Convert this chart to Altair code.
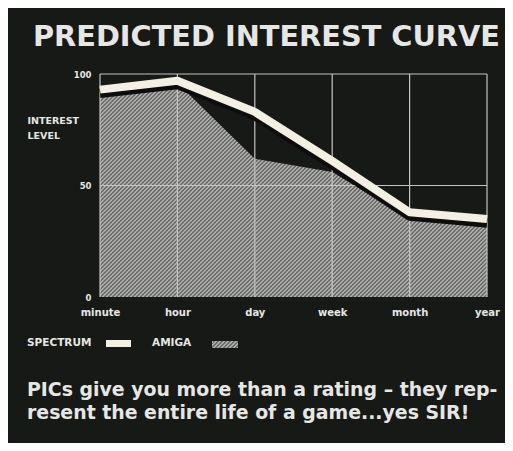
import math
import altair as alt
import pandas as pd

# ---- data ----
periods = ["minute", "hour", "day", "week", "month", "year"]
spectrum = [93, 97, 83, 61, 38, 35]
amiga = [91, 96, 62, 56, 35, 31]
grid_levels = [50, 100]
y_ticks = [0, 50, 100]

title_text = "PREDICTED INTEREST CURVE"
y_title = ["INTEREST", "LEVEL"]
legend_labels = ["SPECTRUM", "AMIGA"]
caption = ["PICs give you more than a rating \u2013 they rep-",
           "resent the entire life of a game...yes SIR!"]

BG = "#171917"
CREAM = "#f3f0e3"
TXT = "#e6e6e4"
FONT = "DejaVu Sans"

df = pd.DataFrame({"period": periods, "spectrum": spectrum, "amiga": amiga})
grid_df = pd.DataFrame({"level": grid_levels})

PW, PH = 387, 223
AREA_H = PH * (1 - max(amiga) / 100)  # top of the area's bounding box
AREA_H = PH - AREA_H


def hatch(w, h, period, light, dark):
    """diagonal (/) stripes as a hard-stop linear gradient in bbox units"""
    k = (w + h) * w / (w * w + h * h)
    total = (w + h) / math.sqrt(2)
    n = total / period
    stops = []
    i = 0
    while i / n < 1:
        a, b, c = i / n, (i + 0.5) / n, (i + 1) / n
        for off, col in [(a, light), (min(b, 1), light), (min(b, 1), dark), (min(c, 1), dark)]:
            stops.append(alt.GradientStop(offset=off, color=col))
        i += 1
    return alt.Gradient(gradient="linear", stops=stops, x1=0, y1=0, x2=k, y2=k * h / w)


LIGHT, DARK = "#acacaa", "#6c6d6a"
PERIOD = 2 * math.sqrt(2)

xenc = alt.X("period:N", sort=periods,
             scale=alt.Scale(type="point", padding=0, domain=periods),
             axis=alt.Axis(title=None, domain=False, ticks=False, grid=False, labelAngle=0,
                           labelPadding=10, labelFontSize=10, labelFont=FONT,
                           labelFontWeight="bold", labelColor=TXT))
yaxis = alt.Axis(values=y_ticks, title=y_title, domain=False, ticks=False, grid=False,
                 labelPadding=9, labelFontSize=8.5, labelFont=FONT, labelFontWeight="bold",
                 labelColor=TXT, titleAngle=0, titleX=-73, titleY=41, titleAlign="left",
                 titleBaseline="top", titleFont=FONT, titleFontSize=9.5, titleFontWeight="bold",
                 titleColor=TXT, titleLineHeight=15)
yscale = alt.Scale(domain=[0, 100])

base = alt.Chart(df)

area = base.mark_area(color=hatch(PW, AREA_H, PERIOD, LIGHT, DARK), opacity=1).encode(
    x=xenc, y=alt.Y("amiga:Q", scale=yscale, axis=yaxis))

vgrid = base.mark_rule(color="#c4c4c0", strokeWidth=1.2).encode(x=xenc)

hgrid = alt.Chart(grid_df).mark_rule(color="#c4c4c0", strokeWidth=1.2).encode(
    y=alt.Y("level:Q", scale=yscale, axis=yaxis))

shadow = base.mark_line(color="#0c0d0c", strokeWidth=9, strokeJoin="round").encode(
    x=xenc, y=alt.Y("spectrum:Q", scale=yscale, axis=yaxis), yOffset=alt.value(4))

line = base.mark_line(color=CREAM, strokeWidth=8, strokeJoin="round").encode(
    x=xenc, y=alt.Y("spectrum:Q", scale=yscale, axis=yaxis))


def label(text, x, y, size, align="left", baseline="middle"):
    return alt.Chart(pd.DataFrame({"t": [text]})).mark_text(
        font=FONT, fontWeight="bold", fontSize=size, color=TXT, align=align, baseline=baseline
    ).encode(x=alt.value(x), y=alt.value(y), text="t:N")


title = label(title_text, 166.5, -37, 28.8, align="center")
leg1 = label(legend_labels[0], -73, 269, 10.5)
leg2 = label(legend_labels[1], 52, 269, 10.5)
cap1 = label(caption[0], -73, 322, 18.9, baseline="alphabetic")
cap2 = label(caption[1], -73, 345, 18.9, baseline="alphabetic")

sw_df = pd.DataFrame({"s": ["spectrum"]})
sw1 = alt.Chart(sw_df).mark_rect(color=CREAM).encode(
    x=alt.value(6), x2=alt.value(31), y=alt.value(266), y2=alt.value(273))
sw2 = alt.Chart(sw_df).mark_rect(color=hatch(26, 7, PERIOD, LIGHT, DARK)).encode(
    x=alt.value(112), x2=alt.value(138), y=alt.value(267), y2=alt.value(274))

chart = alt.layer(area, vgrid, hgrid, shadow, line, title, leg1, leg2, sw1, sw2, cap1, cap2).properties(
    width=PW, height=PH,
    autosize=alt.AutoSizeParams(type="none"),
    padding={"left": 92, "top": 66, "right": 18, "bottom": 146},
    background=BG,
).configure_view(stroke=None)

chart.save("out.html", embed_options={"renderer": "svg", "actions": False})
